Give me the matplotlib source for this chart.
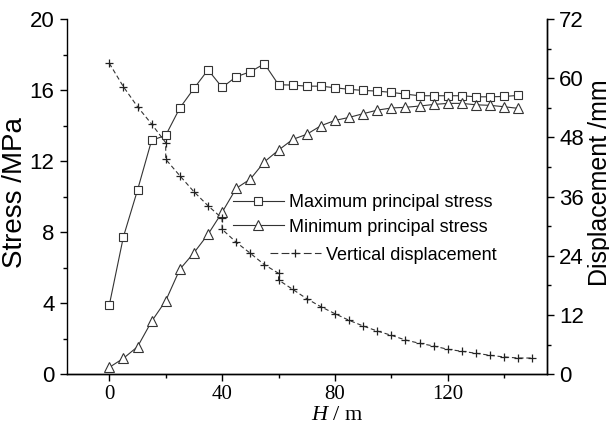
import numpy as np
import matplotlib
matplotlib.use("Agg")
import matplotlib.pyplot as plt
from matplotlib.ticker import MultipleLocator
from matplotlib.lines import Line2D

plt.rcParams["mathtext.fontset"] = "custom"
plt.rcParams["mathtext.it"] = "Liberation Serif:italic"
plt.rcParams["mathtext.rm"] = "Liberation Serif"

# stress series, sampled every 5 m
depth = list(range(0, 150, 5))
max_stress = [3.90, 7.74, 10.37, 13.17, 13.45, 14.99, 16.09, 17.14, 16.15, 16.75,
              17.03, 17.48, 16.30, 16.28, 16.22, 16.22, 16.13, 16.04, 15.98, 15.94,
              15.87, 15.77, 15.68, 15.68, 15.68, 15.68, 15.62, 15.62, 15.64, 15.70]
min_stress = [0.39, 0.90, 1.55, 2.98, 4.14, 5.91, 6.84, 7.88, 9.12, 10.47,
              10.99, 11.96, 12.62, 13.22, 13.51, 13.99, 14.29, 14.46, 14.67, 14.87,
              14.99, 15.03, 15.10, 15.19, 15.25, 15.25, 15.17, 15.14, 15.06, 14.97]

# displacement series (steps at 20, 40 and 60 m)
disp_depth = [0, 5, 10, 15, 20, 20, 25, 30, 35, 40, 40, 45, 50, 55, 60, 60, 65, 70,
              75, 80, 85, 90, 95, 100, 105, 110, 115, 120, 125, 130, 135, 140, 145, 150]
displacement = [63.02, 58.28, 54.22, 50.72, 46.93, 43.57, 40.24, 37.00, 34.16, 31.61,
                29.38, 26.75, 24.52, 22.21, 20.47, 19.11, 17.22, 15.32, 13.70, 12.28,
                10.94, 9.79, 8.77, 7.90, 6.95, 6.28, 5.73, 5.07, 4.66, 4.26,
                3.85, 3.51, 3.30, 3.30]

sans = "Liberation Sans"
serif = "Liberation Serif"
line_col = "#333333"

fig = plt.figure(figsize=(6.09, 4.28), dpi=100)
ax = fig.add_axes([67 / 609, 1 - 374.3 / 428, (546.5 - 67) / 609, (374.3 - 19) / 428])
ax2 = ax.twinx()

ax.plot(depth, max_stress, color=line_col, lw=0.8, marker="s", ms=5.8,
        mfc="white", mec=line_col, mew=0.8)
ax.plot(depth, min_stress, color=line_col, lw=0.8, marker="^", ms=6.5,
        mfc="white", mec=line_col, mew=0.8)
ax2.plot(disp_depth, displacement, color=line_col, lw=0.8, ls=(0, (4, 2.5)),
         marker="+", ms=6, mec="#222222", mew=0.9)

ax.set_xlim(-15, 155)
ax.set_ylim(0, 20)
ax2.set_ylim(0, 72)

ax.xaxis.set_major_locator(MultipleLocator(40))
ax.xaxis.set_minor_locator(MultipleLocator(20))
ax.yaxis.set_major_locator(MultipleLocator(4))
ax.yaxis.set_minor_locator(MultipleLocator(2))
ax2.yaxis.set_major_locator(MultipleLocator(12))
ax2.yaxis.set_minor_locator(MultipleLocator(6))

for a in (ax, ax2):
    a.spines["top"].set_visible(False)
    for s in a.spines.values():
        s.set_linewidth(1.0)
    a.tick_params(which="major", direction="out", length=5, width=1.0)
    a.tick_params(which="minor", direction="out", length=3, width=1.0)
ax2.spines["left"].set_visible(False)
ax.tick_params(axis="y", labelsize=16, pad=4)
ax2.tick_params(axis="y", labelsize=16, pad=4)
ax.tick_params(axis="x", labelsize=15, pad=3)

for lbl in ax.get_yticklabels() + ax2.get_yticklabels():
    lbl.set_fontfamily(sans)
for lbl in ax.get_xticklabels():
    lbl.set_fontfamily(serif)

fig.text(2 / 609, 1 - 193 / 428, "Stress /MPa", rotation=90, ha="left", va="center",
         fontsize=20, family=sans)
fig.text(588 / 609, 1 - 183 / 428, "Displacement /mm", rotation=90, ha="left", va="center",
         fontsize=18, family=sans)
fig.text(337 / 609, 1 - 416 / 428, r"$H$ / m", ha="center", va="center",
         fontsize=16, family=serif)

h1 = Line2D([], [], color=line_col, lw=0.8, marker="s", ms=5.8, mfc="white",
            mec=line_col, mew=0.8)
h2 = Line2D([], [], color=line_col, lw=0.8, marker="^", ms=6.5, mfc="white",
            mec=line_col, mew=0.8)
h3 = Line2D([], [], color=line_col, lw=0.8, ls=(0, (7, 3)), marker="+", ms=6,
            mec="#222222", mew=0.9)
leg_kw = dict(frameon=False, borderpad=0, borderaxespad=0, handlelength=2.8,
              handletextpad=0.3, labelspacing=0.4, prop={"family": sans, "size": 13})
leg1 = fig.legend([h1, h2], ["Maximum principal stress", "Minimum principal stress"],
                  loc="center left", bbox_to_anchor=(233 / 609, 1 - 215 / 428), **leg_kw)
leg2 = fig.legend([h3], ["Vertical displacement"],
                  loc="center left", bbox_to_anchor=(270 / 609, 1 - 255 / 428), **leg_kw)

fig.savefig("out.png", dpi=100)
plt.close(fig)
